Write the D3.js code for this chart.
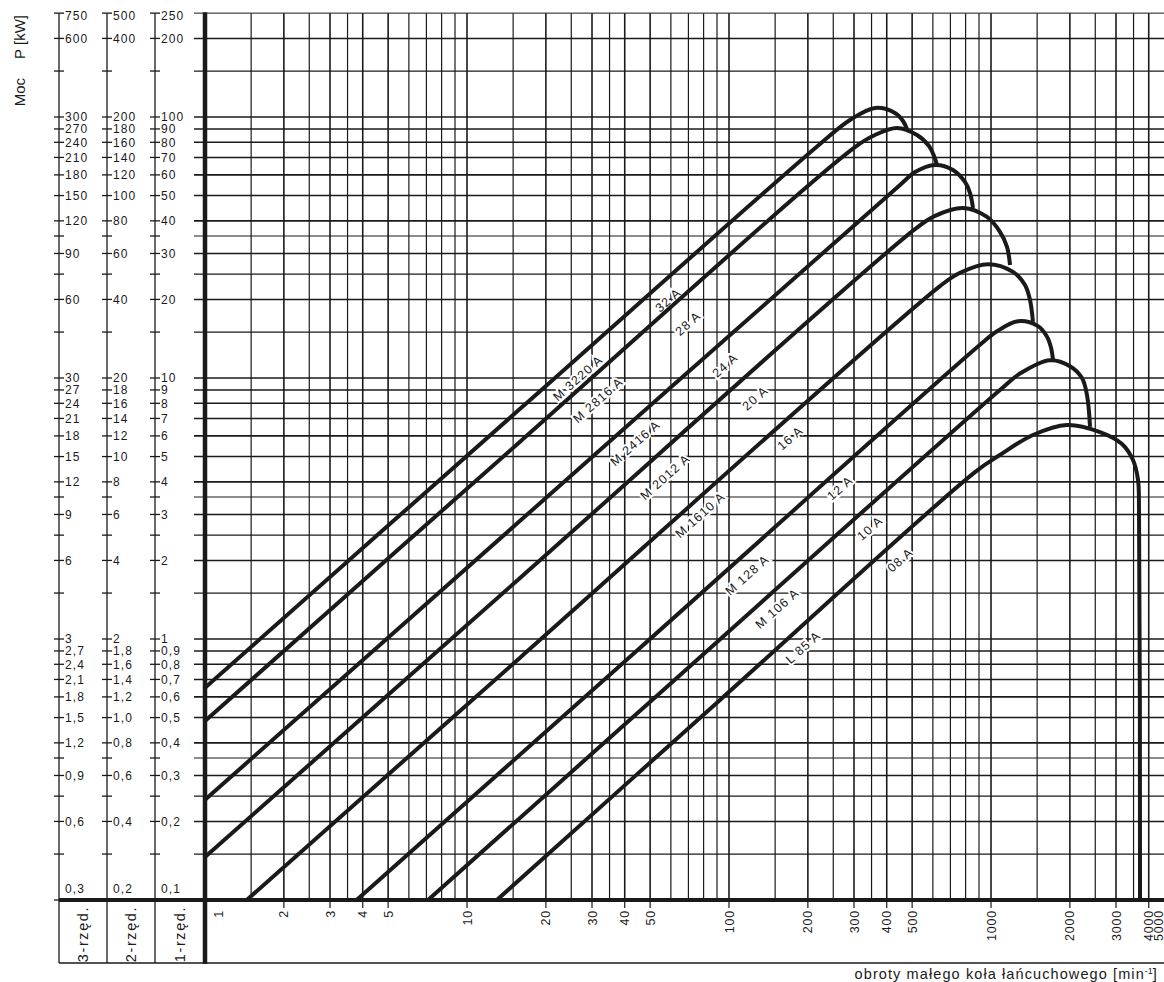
<!DOCTYPE html>
<html>
<head>
<meta charset="utf-8">
<script src="https://cdn.jsdelivr.net/npm/d3@7"></script>
<style>
    body { margin: 0; background: #fff; }
    text { font-family: "Liberation Sans", Arial, sans-serif; fill: #1a1a1a; }
</style>
</head>
<body>
<svg id="canvas" width="1164" height="982"></svg>
<script>
//Power values (1-row chain, kW) where the left scales have a tick
let powerTicks = [250, 200, 150, 100, 90, 80, 70, 60, 50, 40, 35, 30, 25, 20, 15, 10, 9, 8, 7, 6, 5, 4, 3.5, 3, 2.5, 2, 1.5, 1, 0.9, 0.8, 0.7, 0.6, 0.5, 0.4, 0.35, 0.3, 0.25, 0.2, 0.15, 0.1]
let labels3row = ["750", "600", "", "300", "270", "240", "210", "180", "150", "120", "", "90", "", "60", "", "30", "27", "24", "21", "18", "15", "12", "", "9", "", "6", "", "3", "2,7", "2,4", "2,1", "1,8", "1,5", "1,2", "", "0,9", "", "0,6", "", "0,3"]
let labels2row = ["500", "400", "", "200", "180", "160", "140", "120", "100", "80", "", "60", "", "40", "", "20", "18", "16", "14", "12", "10", "8", "", "6", "", "4", "", "2", "1,8", "1,6", "1,4", "1,2", "1,0", "0,8", "", "0,6", "", "0,4", "", "0,2"]
let labels1row = ["250", "200", "", "100", "90", "80", "70", "60", "50", "40", "", "30", "", "20", "", "10", "9", "8", "7", "6", "5", "4", "", "3", "", "2", "", "1", "0,9", "0,8", "0,7", "0,6", "0,5", "0,4", "", "0,3", "", "0,2", "", "0,1"]
let rowNames = ["3-rzęd.", "2-rzęd.", "1-rzęd."]

//Speed axis (min-1)
let speedTicks = [1, 2, 3, 4, 5, 10, 20, 30, 40, 50, 100, 200, 300, 400, 500, 1000, 2000, 3000, 4000, 5000]
let speedDecades = [1, 10, 100, 1000]
let speedSteps = [1, 1.5, 2, 2.5, 3, 3.5, 4, 5, 6, 7, 8, 9]

//Chain curves: [speed, power of a 1-row chain]
let chain32A = [[1, 0.65], [15.9, 7.6], [222.5, 78.8], [289.6, 97.4], [360.8, 108.3], [430.1, 103.6], [461.5, 96.5], [477.9, 89.9]]
let chain28A = [[1, 0.485], [15.9, 5.69], [302.7, 76.7], [360.8, 85.3], [437.7, 90.8], [521.9, 85.3], [580, 77.4], [606, 70.9], [622.3, 65.5]]
let chain24A = [[1, 0.242], [15.9, 2.83], [449.5, 54.9], [512.8, 61.5], [611.5, 65.5], [716.1, 62.7], [795.7, 56.4], [831.3, 51.2], [853.6, 44.8]]
let chain20A = [[1, 0.146], [15.9, 1.71], [512.8, 37.2], [611.5, 41.8], [781.8, 44.8], [965.4, 41.4], [1082, 36.3], [1151, 31.8], [1182, 27.1]]
let chain16A = [[1.443, 0.1], [15.9, 0.846], [638.9, 22.5], [761.6, 25.3], [973.9, 27.3], [1213, 25.5], [1348, 22.7], [1409, 19.9], [1446, 16.4]]
let chain12A = [[3.79, 0.1], [45.7, 0.924], [907.8, 13.4], [1054, 15.1], [1268, 16.5], [1511, 15.8], [1636, 14.4], [1694, 13.1], [1724, 11.8]]
let chain10A = [[7.1, 0.1], [49.9, 0.574], [1082, 9.0], [1290, 10.4], [1679, 11.7], [2002, 11.1], [2225, 10.0], [2325, 8.6], [2388, 6.5]]
let chain08A = [[13.0, 0.1], [92.4, 0.584], [868.9, 4.36], [1082, 5.07], [1446, 6.05], [1950, 6.61], [2606, 6.21], [3162, 5.59], [3483, 4.85], [3640, 4.07], [3672, 3.12], [3705, 0.1]]
let chains = [chain32A, chain28A, chain24A, chain20A, chain16A, chain12A, chain10A, chain08A]

//Labels written along the lines
let labelTexts = ["32 A", "28 A", "24 A", "20 A", "16 A", "12 A", "10 A", "08 A", "M 3220 A", "M 2816 A", "M 2416 A", "M 2012 A", "M 1610 A", "M 128 A", "M 106 A", "L 85 A"]
let labelSpeeds = [58.5, 69.7, 96.5, 125.7, 171, 265, 345, 449.5, 26.5, 31.6, 43.8, 57.0, 77.5, 117.2, 152.5, 191.6]
let labelPowers = [19.9, 16.2, 11.2, 8.38, 5.89, 3.79, 2.66, 2.01, 10.0, 8.24, 5.64, 4.18, 2.99, 1.76, 1.31, 0.93]

let canvas = d3.select("#canvas")
let ink = "#1a1a1a"

//Log scales for both axes
let xScale = d3.scaleLog().domain([1, 1000]).range([205, 991])
let yScale = d3.scaleLog().domain([0.1, 100]).range([900, 117])
let yTop = yScale(250)
let yBottom = yScale(0.1)
let boxBottom = 963
let rightEdge = 1164
let leftAxes = [59, 107, 155]

//Vertical grid lines
let gridSpeeds = []
speedDecades.forEach(dec => speedSteps.forEach(s => gridSpeeds.push(dec * s)))
gridSpeeds.push(5000)
canvas.append("g")
    .selectAll("line")
    .data(gridSpeeds)
    .join("line")
    .attr("x1", d => xScale(d))
    .attr("x2", d => xScale(d))
    .attr("y1", yTop)
    .attr("y2", yBottom)
    .attr("stroke", ink)
    .attr("stroke-width", d => speedTicks.includes(d) ? 1.6 : 1.2)

//Horizontal grid lines
canvas.append("g")
    .selectAll("line")
    .data(powerTicks)
    .join("line")
    .attr("x1", 194)
    .attr("x2", rightEdge)
    .attr("y1", d => yScale(d))
    .attr("y2", d => yScale(d))
    .attr("stroke", ink)
    .attr("stroke-width", (d, i) => i === 0 ? 1 : (labels1row[i] ? 1.6 : 1.2))

//Left scales for 3-, 2- and 1-row chains
let rowLabels = [labels3row, labels2row, labels1row]
leftAxes.forEach((ax, k) => {
    let g = canvas.append("g")
    g.append("line")
        .attr("x1", ax).attr("x2", ax)
        .attr("y1", yTop).attr("y2", boxBottom)
        .attr("stroke", ink).attr("stroke-width", 1.3)
    g.selectAll("line.tick")
        .data(powerTicks)
        .join("line")
        .attr("class", "tick")
        .attr("x1", ax - 5).attr("x2", ax + 5)
        .attr("y1", d => yScale(d)).attr("y2", d => yScale(d))
        .attr("stroke", ink).attr("stroke-width", 1.3)
    g.selectAll("text")
        .data(powerTicks)
        .join("text")
        .attr("x", ax + 6)
        .attr("y", (d, i) => yScale(d) + (i === 0 ? 3 : 0) + (i === powerTicks.length - 1 ? -11 : 0))
        .attr("dy", "0.36em")
        .style("font-size", "12px")
        .style("letter-spacing", "1.1px")
        .text((d, i) => rowLabels[k][i])
    //Row name in the bottom box
    let cx = (ax + (k < 2 ? leftAxes[k + 1] : 205)) / 2
    g.append("text")
        .attr("transform", "translate(" + [cx + 5, 934] + ") rotate(-90)")
        .attr("text-anchor", "middle")
        .style("font-size", "14.5px")
        .style("letter-spacing", "1.6px")
        .text(rowNames[k])
})

//Heavy frame lines
canvas.append("line")
    .attr("x1", leftAxes[0]).attr("x2", rightEdge)
    .attr("y1", boxBottom).attr("y2", boxBottom)
    .attr("stroke", ink).attr("stroke-width", 1.6)
canvas.append("line")
    .attr("x1", leftAxes[0]).attr("x2", rightEdge)
    .attr("y1", yBottom).attr("y2", yBottom)
    .attr("stroke", ink).attr("stroke-width", 4)
canvas.append("line")
    .attr("x1", xScale(1)).attr("x2", xScale(1))
    .attr("y1", yTop - 1).attr("y2", boxBottom + 1)
    .attr("stroke", ink).attr("stroke-width", 4.5)

//Speed ticks and labels under the axis (last one squeezed against the edge)
let labelX = d => Math.min(xScale(d) + (d === 1 ? 13 : 0), rightEdge - 6)
let xt = canvas.append("g")
xt.selectAll("line")
    .data(speedTicks.slice(1))
    .join("line")
    .attr("x1", d => xScale(d)).attr("x2", d => xScale(d))
    .attr("y1", yBottom).attr("y2", yBottom + 8)
    .attr("stroke", ink).attr("stroke-width", 1.2)
xt.selectAll("text")
    .data(speedTicks)
    .join("text")
    .attr("transform", d => "translate(" + [labelX(d), yBottom + 10] + ") rotate(-90)")
    .attr("text-anchor", "end")
    .attr("dy", "0.36em")
    .style("font-size", "12.5px")
    .style("letter-spacing", "0.8px")
    .text(d => d)

//Chain labels with a white halo over the grid
canvas.append("g")
    .selectAll("text")
    .data(labelTexts)
    .join("text")
    .attr("transform", (d, i) => "translate(" + [xScale(labelSpeeds[i]), yScale(labelPowers[i])] + ") rotate(-41.5)")
    .attr("text-anchor", "middle")
    .attr("dy", "0.36em")
    .style("font-size", "12.5px")
    .style("letter-spacing", "1.1px")
    .attr("stroke", "#fff")
    .attr("stroke-width", 4)
    .attr("paint-order", "stroke")
    .text(d => d)

//Power curves
let line = d3.line()
    .x(d => xScale(d[0]))
    .y(d => yScale(d[1]))
    .curve(d3.curveCatmullRom.alpha(0.5))
canvas.append("g")
    .selectAll("path")
    .data(chains)
    .join("path")
    .attr("d", line)
    .attr("fill", "none")
    .attr("stroke", ink)
    .attr("stroke-width", 4)

//Axis titles
canvas.append("text")
    .attr("transform", "translate(25,15) rotate(-90)")
    .attr("text-anchor", "end")
    .style("font-size", "15px")
    .text("P [kW]")
canvas.append("text")
    .attr("transform", "translate(25,78) rotate(-90)")
    .attr("text-anchor", "end")
    .style("font-size", "15px")
    .text("Moc")
let title = canvas.append("text")
    .attr("x", 1158)
    .attr("y", 979)
    .attr("text-anchor", "end")
    .style("font-size", "14.5px")
    .style("letter-spacing", "1.1px")
title.append("tspan").text("obroty małego koła łańcuchowego [min")
title.append("tspan").attr("dy", -5).style("font-size", "9px").style("letter-spacing", "0px").text("-1")
title.append("tspan").attr("dy", 5).text("]")
</script>
</body>
</html>
